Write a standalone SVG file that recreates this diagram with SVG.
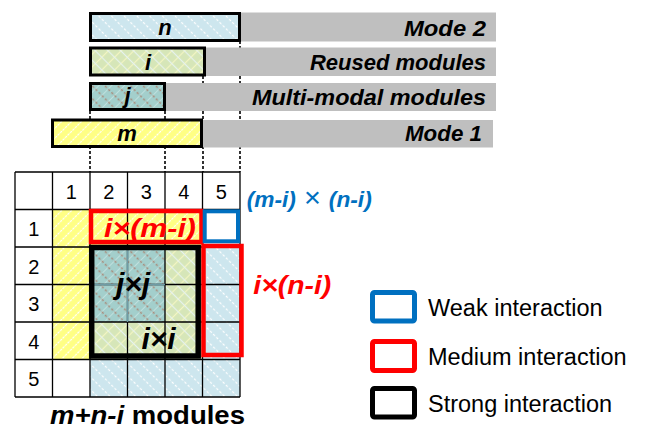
<svg xmlns="http://www.w3.org/2000/svg" width="646" height="430" viewBox="0 0 646 430">
  <defs>
    <!-- Mode 1 modules: yellow with white "/" hatch -->
    <pattern id="pm" patternUnits="userSpaceOnUse" width="7" height="7" patternTransform="rotate(45)">
      <rect width="7" height="7" fill="#FFFF84"/>
      <line x1="3.5" y1="0" x2="3.5" y2="7" stroke="#FFFFFF" stroke-width="1.2" stroke-dasharray="2.5 1"/>
    </pattern>
    <!-- Mode 2 modules: light blue with white "\" hatch -->
    <pattern id="pn" patternUnits="userSpaceOnUse" width="9" height="9" patternTransform="rotate(-45)">
      <rect width="9" height="9" fill="#CDE6EE"/>
      <line x1="4.5" y1="0" x2="4.5" y2="9" stroke="#FFFFFF" stroke-width="1.2" stroke-dasharray="2.5 2"/>
    </pattern>
    <!-- Reused modules: green with cross hatch -->
    <pattern id="pi" patternUnits="userSpaceOnUse" width="9" height="9" patternTransform="rotate(45)">
      <rect width="9" height="9" fill="#D6E6B8"/>
      <line x1="4.5" y1="0" x2="4.5" y2="9" stroke="#F4F6C2" stroke-width="1.2"/>
      <line x1="0" y1="4.5" x2="9" y2="4.5" stroke="#E6F2EE" stroke-width="1.2"/>
    </pattern>
    <!-- Multi-modal modules: teal with brown dashed "\" hatch -->
    <pattern id="pj" patternUnits="userSpaceOnUse" width="9" height="9" patternTransform="rotate(45)">
      <rect width="9" height="9" fill="#A3CFCC"/>
      <line x1="4.5" y1="0" x2="4.5" y2="9" stroke="#BFE0DE" stroke-width="1"/>
      <line x1="0" y1="4.5" x2="9" y2="4.5" stroke="#A88E7E" stroke-width="1.3" stroke-dasharray="2.5 2"/>
    </pattern>
    <style>
      .bar { stroke: #000; stroke-width: 3; }
      .band { fill: #BFBFBF; }
      .bandtxt { font-family: "Liberation Sans", Arial, sans-serif; font-weight: bold; font-style: italic; font-size: 22px; fill: #000; text-anchor: end; }
      .letter { font-family: "Liberation Sans", Arial, sans-serif; font-weight: bold; font-style: italic; font-size: 22px; fill: #000; text-anchor: middle; }
      .dot { stroke: #000; stroke-width: 1.6; stroke-dasharray: 3 2; fill: none; }
      .grid { stroke: #000; stroke-width: 1.3; fill: none; }
      .num { font-family: "Liberation Sans", Arial, sans-serif; font-size: 20px; fill: #000; text-anchor: middle; }
      .math { font-family: "Liberation Sans", Arial, sans-serif; font-weight: bold; font-style: italic; }
      .legtxt { font-family: "Liberation Sans", Arial, sans-serif; font-size: 23.5px; fill: #000; }
      .leg { fill: #FFFFFF; stroke-width: 5; }
    </style>
  </defs>

  <rect width="646" height="430" fill="#FFFFFF"/>

  <!-- dotted guides from the module bars down to the matrix -->
  <g id="connectors">
    <line class="dot" x1="90" y1="111" x2="90" y2="172"/>
    <line class="dot" x1="165" y1="111" x2="165" y2="172"/>
    <line class="dot" x1="203" y1="76" x2="203" y2="172"/>
    <line class="dot" x1="240" y1="41" x2="240" y2="172"/>
  </g>

  <!-- module bars with their grey caption bands -->
  <g id="mode2">
    <rect class="band" x="240" y="12.5" width="256" height="29"/>
    <text class="bandtxt" x="486" y="35.5" textLength="82" lengthAdjust="spacingAndGlyphs">Mode 2</text>
    <rect class="bar" x="90.5" y="13.5" width="149" height="27" fill="url(#pn)"/>
    <text class="letter" x="165" y="34.5">n</text>
  </g>
  <g id="reused">
    <rect class="band" x="205" y="47.5" width="291" height="28.5"/>
    <text class="bandtxt" x="486" y="70">Reused modules</text>
    <rect class="bar" x="90.5" y="48" width="114" height="27" fill="url(#pi)"/>
    <text class="letter" x="148" y="70">i</text>
  </g>
  <g id="multimodal">
    <rect class="band" x="165" y="83" width="331" height="28"/>
    <text class="bandtxt" x="486" y="105" textLength="234" lengthAdjust="spacingAndGlyphs">Multi-modal modules</text>
    <rect class="bar" x="90.5" y="83.5" width="74" height="26" fill="url(#pj)"/>
    <text class="letter" x="127.5" y="103">j</text>
  </g>
  <g id="mode1">
    <rect class="band" x="203" y="120" width="290" height="27.5"/>
    <text class="bandtxt" x="482" y="141" textLength="77" lengthAdjust="spacingAndGlyphs">Mode 1</text>
    <rect class="bar" x="52.5" y="120" width="149" height="26.5" fill="url(#pm)"/>
    <text class="letter" x="127" y="141">m</text>
  </g>

  <!-- interaction matrix -->
  <g id="matrix">
    <rect x="15" y="172" width="225" height="225" fill="#FFFFFF"/>
    <rect x="52.5" y="209.5" width="37.5" height="150" fill="url(#pm)"/>
    <rect x="90" y="209.5" width="112.5" height="37.5" fill="url(#pm)"/>
    <rect x="90" y="247" width="75" height="75" fill="url(#pj)"/>
    <rect x="165" y="247" width="37.5" height="75" fill="url(#pi)"/>
    <rect x="90" y="322" width="112.5" height="37.5" fill="url(#pi)"/>
    <rect x="202.5" y="247" width="37.5" height="112.5" fill="url(#pn)"/>
    <rect x="90" y="359.5" width="150" height="37.5" fill="url(#pn)"/>
    <path class="grid" d="M15 172H240M15 209.5H240M15 247H240M15 284.5H240M15 322H240M15 359.5H240M15 397H240
      M15 172V397M52.5 172V397M90 172V397M127.5 172V397M165 172V397M202.5 172V397M240 172V397"/>
    <path d="M127.5 247V322M90 284.5H165" stroke="#6F9CA6" stroke-width="1.3" fill="none"/>
    <g class="num">
      <text x="71.25" y="198.5">1</text>
      <text x="108.75" y="198.5">2</text>
      <text x="146.25" y="198.5">3</text>
      <text x="183.75" y="198.5">4</text>
      <text x="221.25" y="198.5">5</text>
      <text x="33.75" y="236">1</text>
      <text x="33.75" y="273.5">2</text>
      <text x="33.75" y="311">3</text>
      <text x="33.75" y="348.5">4</text>
      <text x="33.75" y="386">5</text>
    </g>
  </g>

  <!-- interaction regions -->
  <g id="strong-block">
    <rect x="91.7" y="247.5" width="106.5" height="108.5" fill="none" stroke="#000" stroke-width="5.5"/>
    <text class="math" x="133" y="294" font-size="30" text-anchor="middle">j×j</text>
    <text class="math" x="158.5" y="349" font-size="30" text-anchor="middle">i×i</text>
  </g>
  <g id="medium-row">
    <rect x="91" y="211" width="110.5" height="31" fill="none" stroke="#FF0000" stroke-width="4.5"/>
    <text class="math" x="150" y="236.5" font-size="26" fill="#FF0000" text-anchor="middle" textLength="92" lengthAdjust="spacingAndGlyphs">i×(m-i)</text>
  </g>
  <g id="weak-cell">
    <rect x="204.7" y="211.3" width="33.3" height="30" fill="#FFFFFF" stroke="#0070C0" stroke-width="4"/>
    <text class="math" x="246.7" y="207" font-size="22" fill="#0070C0" textLength="125" lengthAdjust="spacingAndGlyphs">(m-i)<tspan font-style="normal" font-weight="normal" font-size="28"> × </tspan>(n-i)</text>
  </g>
  <g id="medium-col">
    <rect x="203.5" y="246" width="38" height="109" fill="none" stroke="#FF0000" stroke-width="4.5"/>
    <text class="math" x="253.3" y="294" font-size="26" fill="#FF0000" textLength="78" lengthAdjust="spacingAndGlyphs">i×(n-i)</text>
  </g>

  <g id="caption">
    <text x="50" y="424" font-family="Liberation Sans, Arial, sans-serif" font-weight="bold" font-size="25" textLength="195" lengthAdjust="spacingAndGlyphs"><tspan font-style="italic">m+n-i</tspan> modules</text>
  </g>

  <!-- legend -->
  <g id="legend-weak">
    <rect class="leg" x="372.5" y="292.5" width="42" height="28.5" rx="2" stroke="#0070C0"/>
    <text class="legtxt" x="428" y="316">Weak interaction</text>
  </g>
  <g id="legend-medium">
    <rect class="leg" x="372.5" y="341.5" width="42" height="29" rx="2" stroke="#FF0000"/>
    <text class="legtxt" x="428" y="365">Medium interaction</text>
  </g>
  <g id="legend-strong">
    <rect class="leg" x="372.5" y="388.5" width="42" height="28.5" rx="2" stroke="#000000"/>
    <text class="legtxt" x="428" y="412">Strong interaction</text>
  </g>
</svg>
